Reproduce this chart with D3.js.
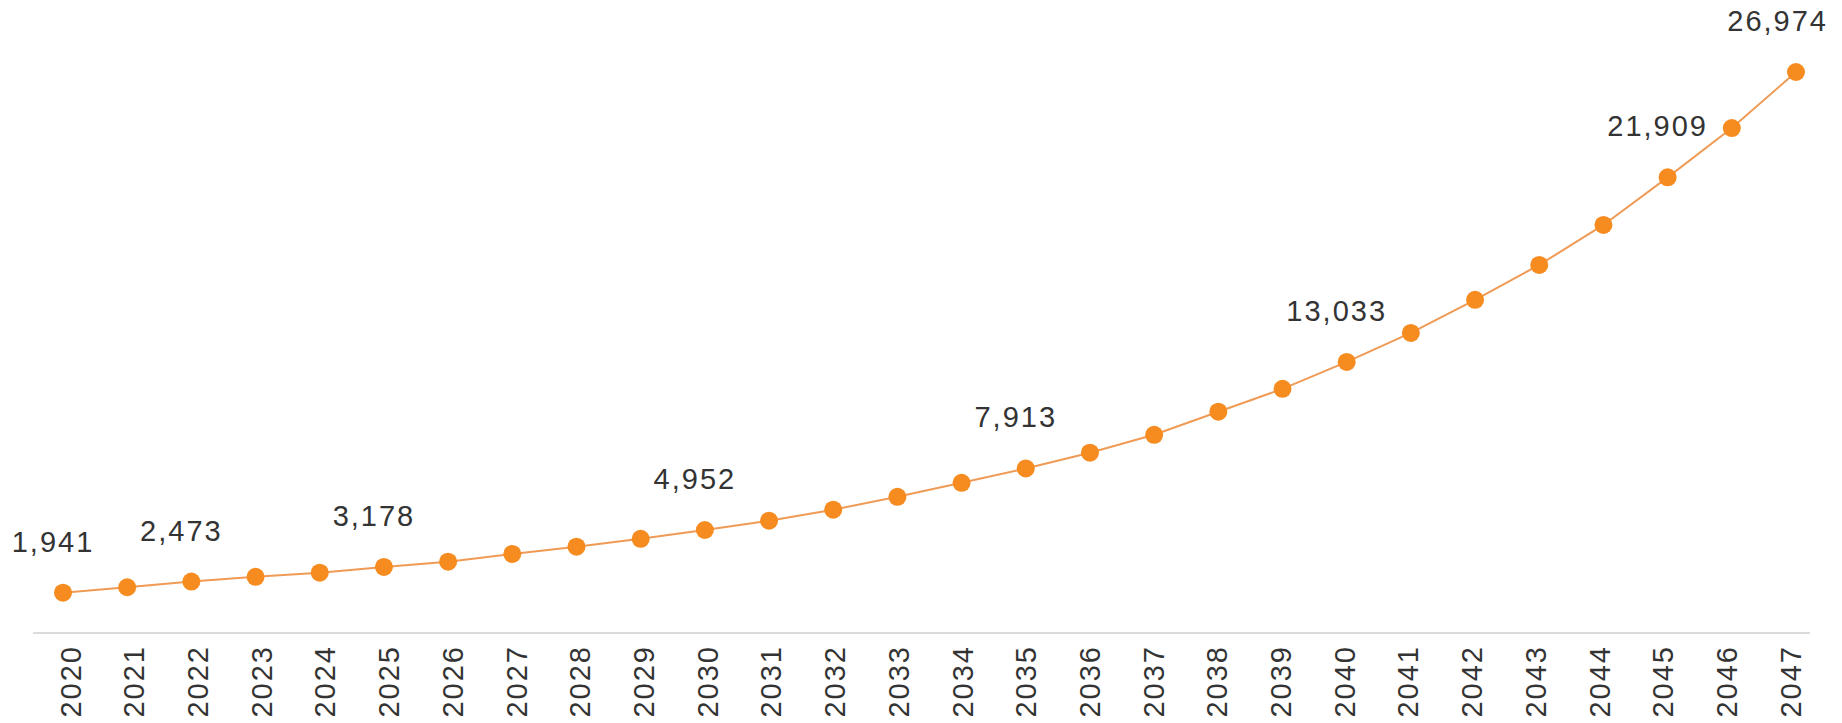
<!DOCTYPE html>
<html>
<head>
<meta charset="utf-8">
<script src="https://cdn.jsdelivr.net/npm/d3@7"></script>
<style>
	html, body { margin: 0; padding: 0; background: #fff; }
	svg { display: block; }
</style>
</head>
<body>
<div id="chart"></div>
<script>
const years = [
	2020, 2021, 2022, 2023, 2024, 2025, 2026, 2027, 2028, 2029,
	2030, 2031, 2032, 2033, 2034, 2035, 2036, 2037, 2038, 2039,
	2040, 2041, 2042, 2043, 2044, 2045, 2046, 2047,
]
const values = [
	1941, 2200, 2473, 2700, 2900, 3178, 3430, 3800, 4150, 4530,
	4952, 5400, 5930, 6550, 7220, 7913, 8670, 9530, 10640, 11740,
	13033, 14430, 16020, 17700, 19620, 21909, 24280, 26974,
]
// only these years carry a value label
const labelledYears = [2020, 2022, 2025, 2030, 2035, 2040, 2045, 2047]

class LineChart {
	constructor(params) {
		this.attrs = Object.assign(
			{
				container: '#chart',
				width: 1842,
				height: 723,
				pointRange: [63, 1796],
				tickRange: [70, 1790],
				axisLine: [33, 1810],
				yRange: [633, 72],
				colors: {
					line: '#ef9a55',
					point: '#f68b1f',
					axis: '#cfcfcf',
					text: '#333333',
				},
				pointRadius: 9,
				font: '"Liberation Sans", Arial, sans-serif',
				fontSize: 29,
			},
			params
		)
		this.main()
	}

	main() {
		const { attrs } = this
		const data = years.map((year, i) => ({ year, value: values[i] }))

		this.svg = d3.select(attrs.container)
			.append('svg')
			.attr('width', attrs.width)
			.attr('height', attrs.height)

		const x = d3.scalePoint().domain(years).range(attrs.pointRange)
		const xTicks = d3.scalePoint().domain(years).range(attrs.tickRange)
		const y = d3.scaleLinear().domain([0, d3.max(values)]).range(attrs.yRange)

		// baseline
		this.svg.append('line')
			.attr('x1', attrs.axisLine[0])
			.attr('x2', attrs.axisLine[1])
			.attr('y1', y(0))
			.attr('y2', y(0))
			.attr('stroke', attrs.colors.axis)
			.attr('stroke-width', 1.5)

		// year labels, rotated
		const axis = this.svg.append('g')
			.attr('transform', `translate(0,${y(0) + 12})`)
			.call(d3.axisBottom(xTicks).tickSize(0).tickPadding(0))

		axis.select('.domain').remove()
		axis.selectAll('text')
			.attr('transform', 'rotate(-90)')
			.attr('text-anchor', 'end')
			.attr('x', 0)
			.attr('y', 0)
			.attr('dy', '0.35em')
			.attr('fill', attrs.colors.text)
			.style('font-family', attrs.font)
			.style('font-size', attrs.fontSize + 'px')
			.style('letter-spacing', '2px')

		const line = d3.line()
			.x(d => x(d.year))
			.y(d => y(d.value))

		this.svg.append('path')
			.datum(data)
			.attr('fill', 'none')
			.attr('stroke', attrs.colors.line)
			.attr('stroke-width', 2)
			.attr('d', line)

		this.svg.append('g')
			.selectAll('circle')
			.data(data)
			.join('circle')
			.attr('cx', d => x(d.year))
			.attr('cy', d => y(d.value))
			.attr('r', attrs.pointRadius)
			.attr('fill', attrs.colors.point)

		const labels = this.svg.append('g')
			.selectAll('text')
			.data(data.filter(d => labelledYears.includes(d.year)))
			.join('text')
			.attr('x', d => x(d.year) - 10)
			.attr('y', d => y(d.value) - 41)
			.attr('text-anchor', 'middle')
			.attr('fill', attrs.colors.text)
			.style('font-family', attrs.font)
			.style('font-size', attrs.fontSize + 'px')
			.style('letter-spacing', '2px')
			.text(d => d3.format(',')(d.value))

		// keep the last label inside the frame
		labels.each(function () {
			const box = this.getBBox()
			const overflow = box.x + box.width - 1828
			if (overflow > 0) {
				d3.select(this).attr('x', +d3.select(this).attr('x') - overflow)
			}
		})
	}
}

new LineChart({})
</script>
</body>
</html>
